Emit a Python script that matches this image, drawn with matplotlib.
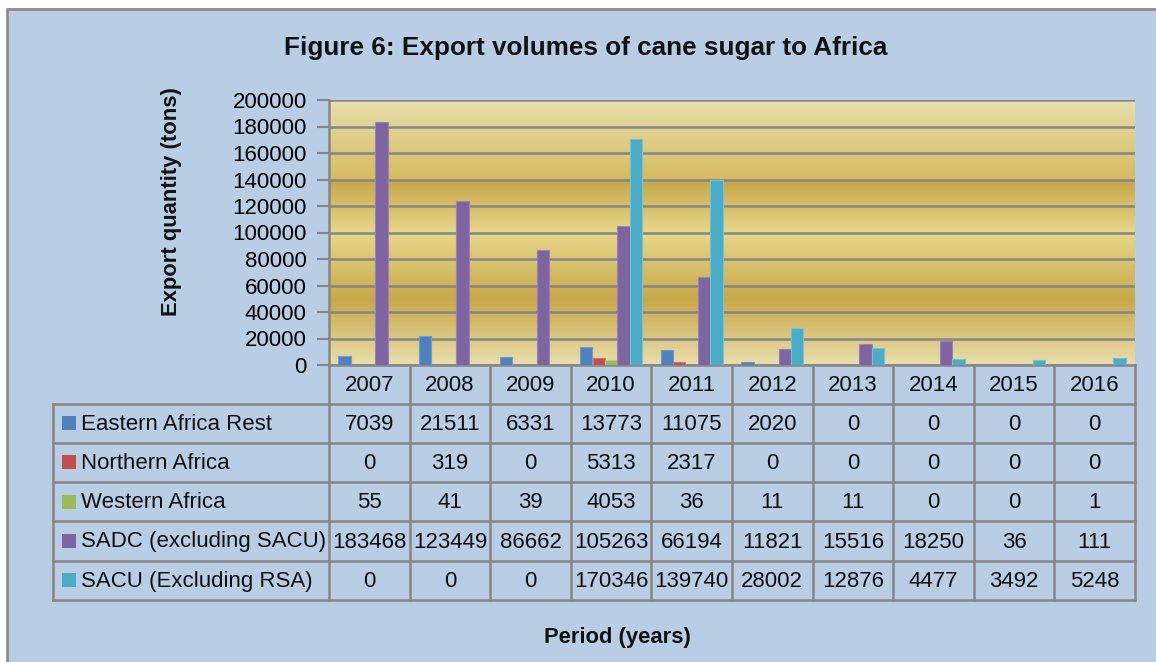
import numpy as np
import matplotlib
matplotlib.use("Agg")
import matplotlib.pyplot as plt
from matplotlib.colors import LinearSegmentedColormap
from matplotlib.patches import Rectangle
from matplotlib.lines import Line2D

years = ["2007", "2008", "2009", "2010", "2011", "2012", "2013", "2014", "2015", "2016"]
series_names = ["Eastern Africa Rest", "Northern Africa", "Western Africa",
                "SADC (excluding SACU)", "SACU (Excluding RSA)"]
eastern = [7039, 21511, 6331, 13773, 11075, 2020, 0, 0, 0, 0]
northern = [0, 319, 0, 5313, 2317, 0, 0, 0, 0, 0]
western = [55, 41, 39, 4053, 36, 11, 11, 0, 0, 1]
sadc = [183468, 123449, 86662, 105263, 66194, 11821, 15516, 18250, 36, 111]
sacu = [0, 0, 0, 170346, 139740, 28002, 12876, 4477, 3492, 5248]
series_values = [eastern, northern, western, sadc, sacu]
colors = ["#4F81BD", "#C0504D", "#9BBB59", "#8064A2", "#4BACC6"]
edge_colors = ["#6F9BD0", "#D4716E", "#B3CE7C", "#9A80B8", "#73C3D8"]
yticks = list(range(0, 200001, 20000))

FONT = ["Liberation Sans", "DejaVu Sans"]
TS = 16      # table / tick size
TT = 18.8    # title
AX = 15.8    # axis titles

W, H = 1156, 662
fig = plt.figure(figsize=(W / 100, H / 100), dpi=100)
fig.patch.set_facecolor("white")

def fx(x):
    return x / W

def fy(y):
    return 1 - y / H

# chart frame
fig.patches.append(Rectangle((fx(7), fy(700)), fx(1200) - fx(7), fy(9) - fy(700),
                             transform=fig.transFigure, facecolor="#B9CDE5",
                             edgecolor="#8C8C8C", linewidth=2, zorder=-5))

L, R, T, B = 329, 1135, 100, 365
ax = fig.add_axes([fx(L), fy(B), fx(R) - fx(L), fy(T) - fy(B)], zorder=2)
ax.set_facecolor("none")

# gold gradient background
stops = [(0.0, "#E9DEAC"), (0.245, "#C8A84A"), (0.50, "#E8D78B"),
         (0.70, "#C6A649"), (0.705, "#D6BC62"), (1.0, "#E8DFAE")]
cmap = LinearSegmentedColormap.from_list("gold", stops)
grad = np.linspace(0, 1, 256).reshape(-1, 1)
ax.imshow(grad, cmap=cmap, origin="lower", extent=[0, 1, 0, 1],
          transform=ax.transAxes, aspect="auto", zorder=0)

n = len(series_values)
w = 1 / (n + 1.5)
x = np.arange(len(years))
for i, (vals, c, ec) in enumerate(zip(series_values, colors, edge_colors)):
    ax.bar(x + (i - (n - 1) / 2) * w, vals, width=w, color=c, edgecolor=ec,
           linewidth=0.8, zorder=3)

ax.set_xlim(-0.5, len(years) - 0.5)
ax.set_ylim(0, 200000)
ax.set_yticks(yticks)
ax.set_yticklabels([str(v) for v in yticks], fontfamily=FONT, fontsize=TS)
ax.set_xticks([])
ax.yaxis.grid(True, color="#868686", linewidth=1.8, zorder=1)
ax.set_axisbelow(True)
ax.tick_params(axis="y", length=9, width=1.5, color="#868686", pad=7)
for s in ["top", "right"]:
    ax.spines[s].set_visible(False)
for s in ["left", "bottom"]:
    ax.spines[s].set_color("#868686")
    ax.spines[s].set_linewidth(1.8)

# data table
line_kw = dict(transform=fig.transFigure, color="#868686", linewidth=1.8, zorder=5)
row_edges = [404, 442.7, 482, 521.3, 560.7, 600]
col_w = (R - L) / len(years)
col_edges = [L + k * col_w for k in range(len(years) + 1)]
for yy in row_edges:
    fig.lines.append(Line2D([fx(53), fx(R)], [fy(yy), fy(yy)], **line_kw))
fig.lines.append(Line2D([fx(53), fx(53)], [fy(404), fy(600)], **line_kw))
for xx in col_edges:
    fig.lines.append(Line2D([fx(xx), fx(xx)], [fy(B), fy(600)], **line_kw))

for j, yr in enumerate(years):
    fig.text(fx(L + (j + 0.5) * col_w), fy((B + 404) / 2 + 1), yr, ha="center",
             va="center", fontfamily=FONT, fontsize=TS, color="#111111")
for i, (name, vals, c) in enumerate(zip(series_names, series_values, colors)):
    yc = (row_edges[i] + row_edges[i + 1]) / 2
    fig.patches.append(Rectangle((fx(62), fy(yc + 7)), fx(14), 14 / H,
                                 transform=fig.transFigure, facecolor=c,
                                 edgecolor="none", zorder=5))
    fig.text(fx(81), fy(yc + 1), name, ha="left", va="center", fontfamily=FONT,
             fontsize=TS, color="#111111")
    for j, v in enumerate(vals):
        fig.text(fx(L + (j + 0.5) * col_w), fy(yc + 1), str(v), ha="center",
                 va="center", fontfamily=FONT, fontsize=TS, color="#111111")

fig.text(fx(586), fy(48), "Figure 6: Export volumes of cane sugar to Africa",
         ha="center", va="center", fontfamily=FONT, fontsize=TT,
         fontweight="bold", color="#111111")
fig.text(fx(172), fy(202), "Export quantity (tons)", ha="center", va="center",
         rotation=90, fontfamily=FONT, fontsize=AX, fontweight="bold",
         color="#111111")
fig.text(fx(617), fy(637), "Period (years)", ha="center", va="center",
         fontfamily=FONT, fontsize=AX, fontweight="bold", color="#111111")

fig.savefig("out.png", dpi=100)
